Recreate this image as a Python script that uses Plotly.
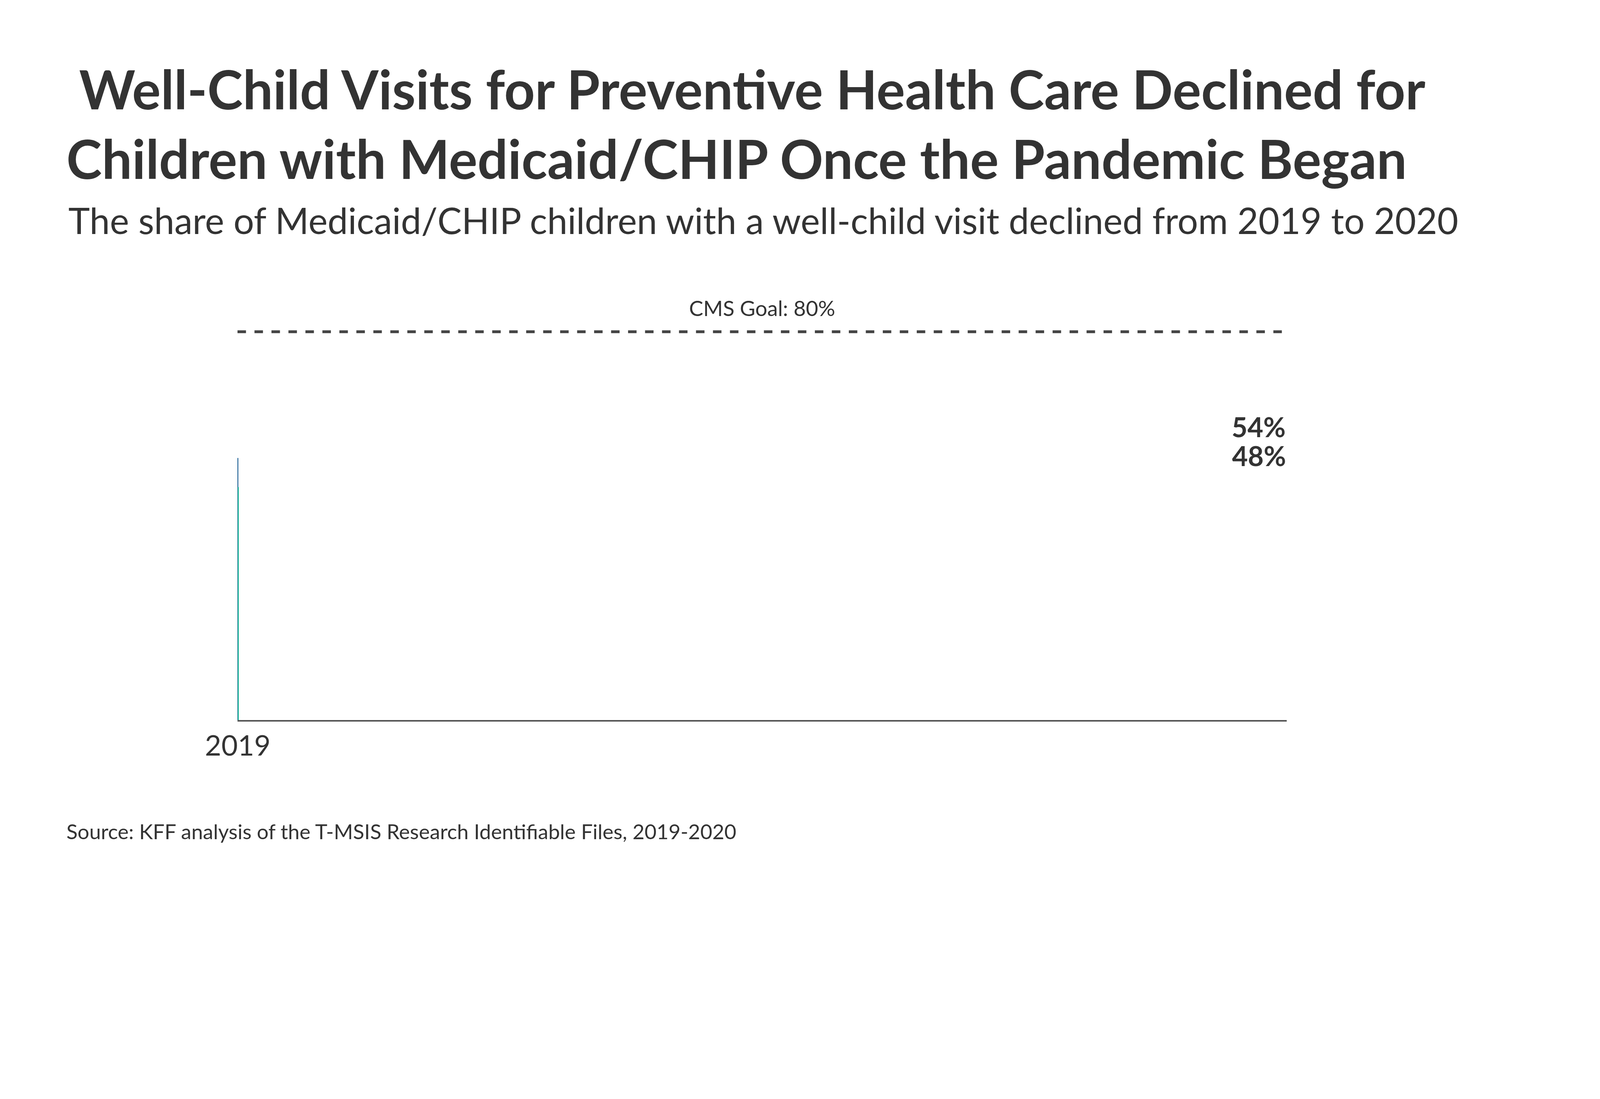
import plotly.graph_objects as go

years = ["2019", "2020"]
shares = [54, 48]
bar_colors = ["#004b87", "#00b78b"]
goal = 80

# the page seems to be rendered with ~1.245 device pixel ratio, so work in CSS px
K = 1 / 1.245
W, H = round(5000 * K), round(2813 * K)
S = W / 1552  # sketch coords -> CSS px
FONT = "Lato"
INK = "#333333"

fig = go.Figure()
fig.add_trace(go.Bar(x=years, y=shares, marker_color=bar_colors, marker_line_width=0))

# value labels
for yr, v in zip(years, shares):
    fig.add_annotation(text=f"<b>{v}%</b>", x=yr, y=v, yanchor="bottom", yshift=14 * S,
                       showarrow=False, font=dict(family=FONT, size=27 * S, color=INK))

# CMS goal line
fig.add_shape(type="line", xref="paper", yref="y", x0=0, x1=1, y0=goal, y1=goal,
              line=dict(color="#444444", width=2.8 * S, dash="dash"))
fig.add_annotation(text="CMS Goal: 80%", xref="paper", yref="y", x=0.5, y=goal,
                   yanchor="bottom", yshift=10 * S, showarrow=False,
                   font=dict(family=FONT, size=21 * S, color=INK))

L, R, T, B = 232 * S, 1270 * S, 301 * S, 709 * S
pw, ph = R - L, B - T


def page(xs, ys):
    # sketch coords -> plot-area paper fraction
    return (xs * S - L) / pw, (B - ys * S) / ph


x, y = page(62, 52)
fig.add_annotation(text="<b> Well-Child Visits for Preventive Health Care Declined for<br>Children with Medicaid/CHIP Once the Pandemic Began</b>",
                   xref="paper", yref="paper", x=x, y=y, xanchor="left", yanchor="top",
                   align="left", showarrow=False,
                   font=dict(family=FONT, size=53 * S, color=INK))
x, y = page(64, 192)
fig.add_annotation(text="The share of Medicaid/CHIP children with a well-child visit declined from 2019 to 2020",
                   xref="paper", yref="paper", x=x, y=y, xanchor="left", yanchor="top",
                   showarrow=False, font=dict(family=FONT, size=36 * S, color=INK))
x, y = page(62, 806)
fig.add_annotation(text="Source: KFF analysis of the T-MSIS Research Identifiable Files, 2019-2020",
                   xref="paper", yref="paper", x=x, y=y, xanchor="left", yanchor="top",
                   showarrow=False, font=dict(family=FONT, size=20.5 * S, color=INK))

fig.update_layout(
    width=W, height=H, plot_bgcolor="white", paper_bgcolor="white",
    margin=dict(l=round(L), r=W - round(R), t=round(T), b=H - round(B)),
    bargap=0.36, showlegend=False,
    xaxis=dict(showline=True, linecolor="#555555", linewidth=1.5 * S, ticks="",
               tickfont=dict(family=FONT, size=28 * S, color=INK)),
    yaxis=dict(range=[0, 85], visible=False, showgrid=False),
)

fig.write_html("out.html")
